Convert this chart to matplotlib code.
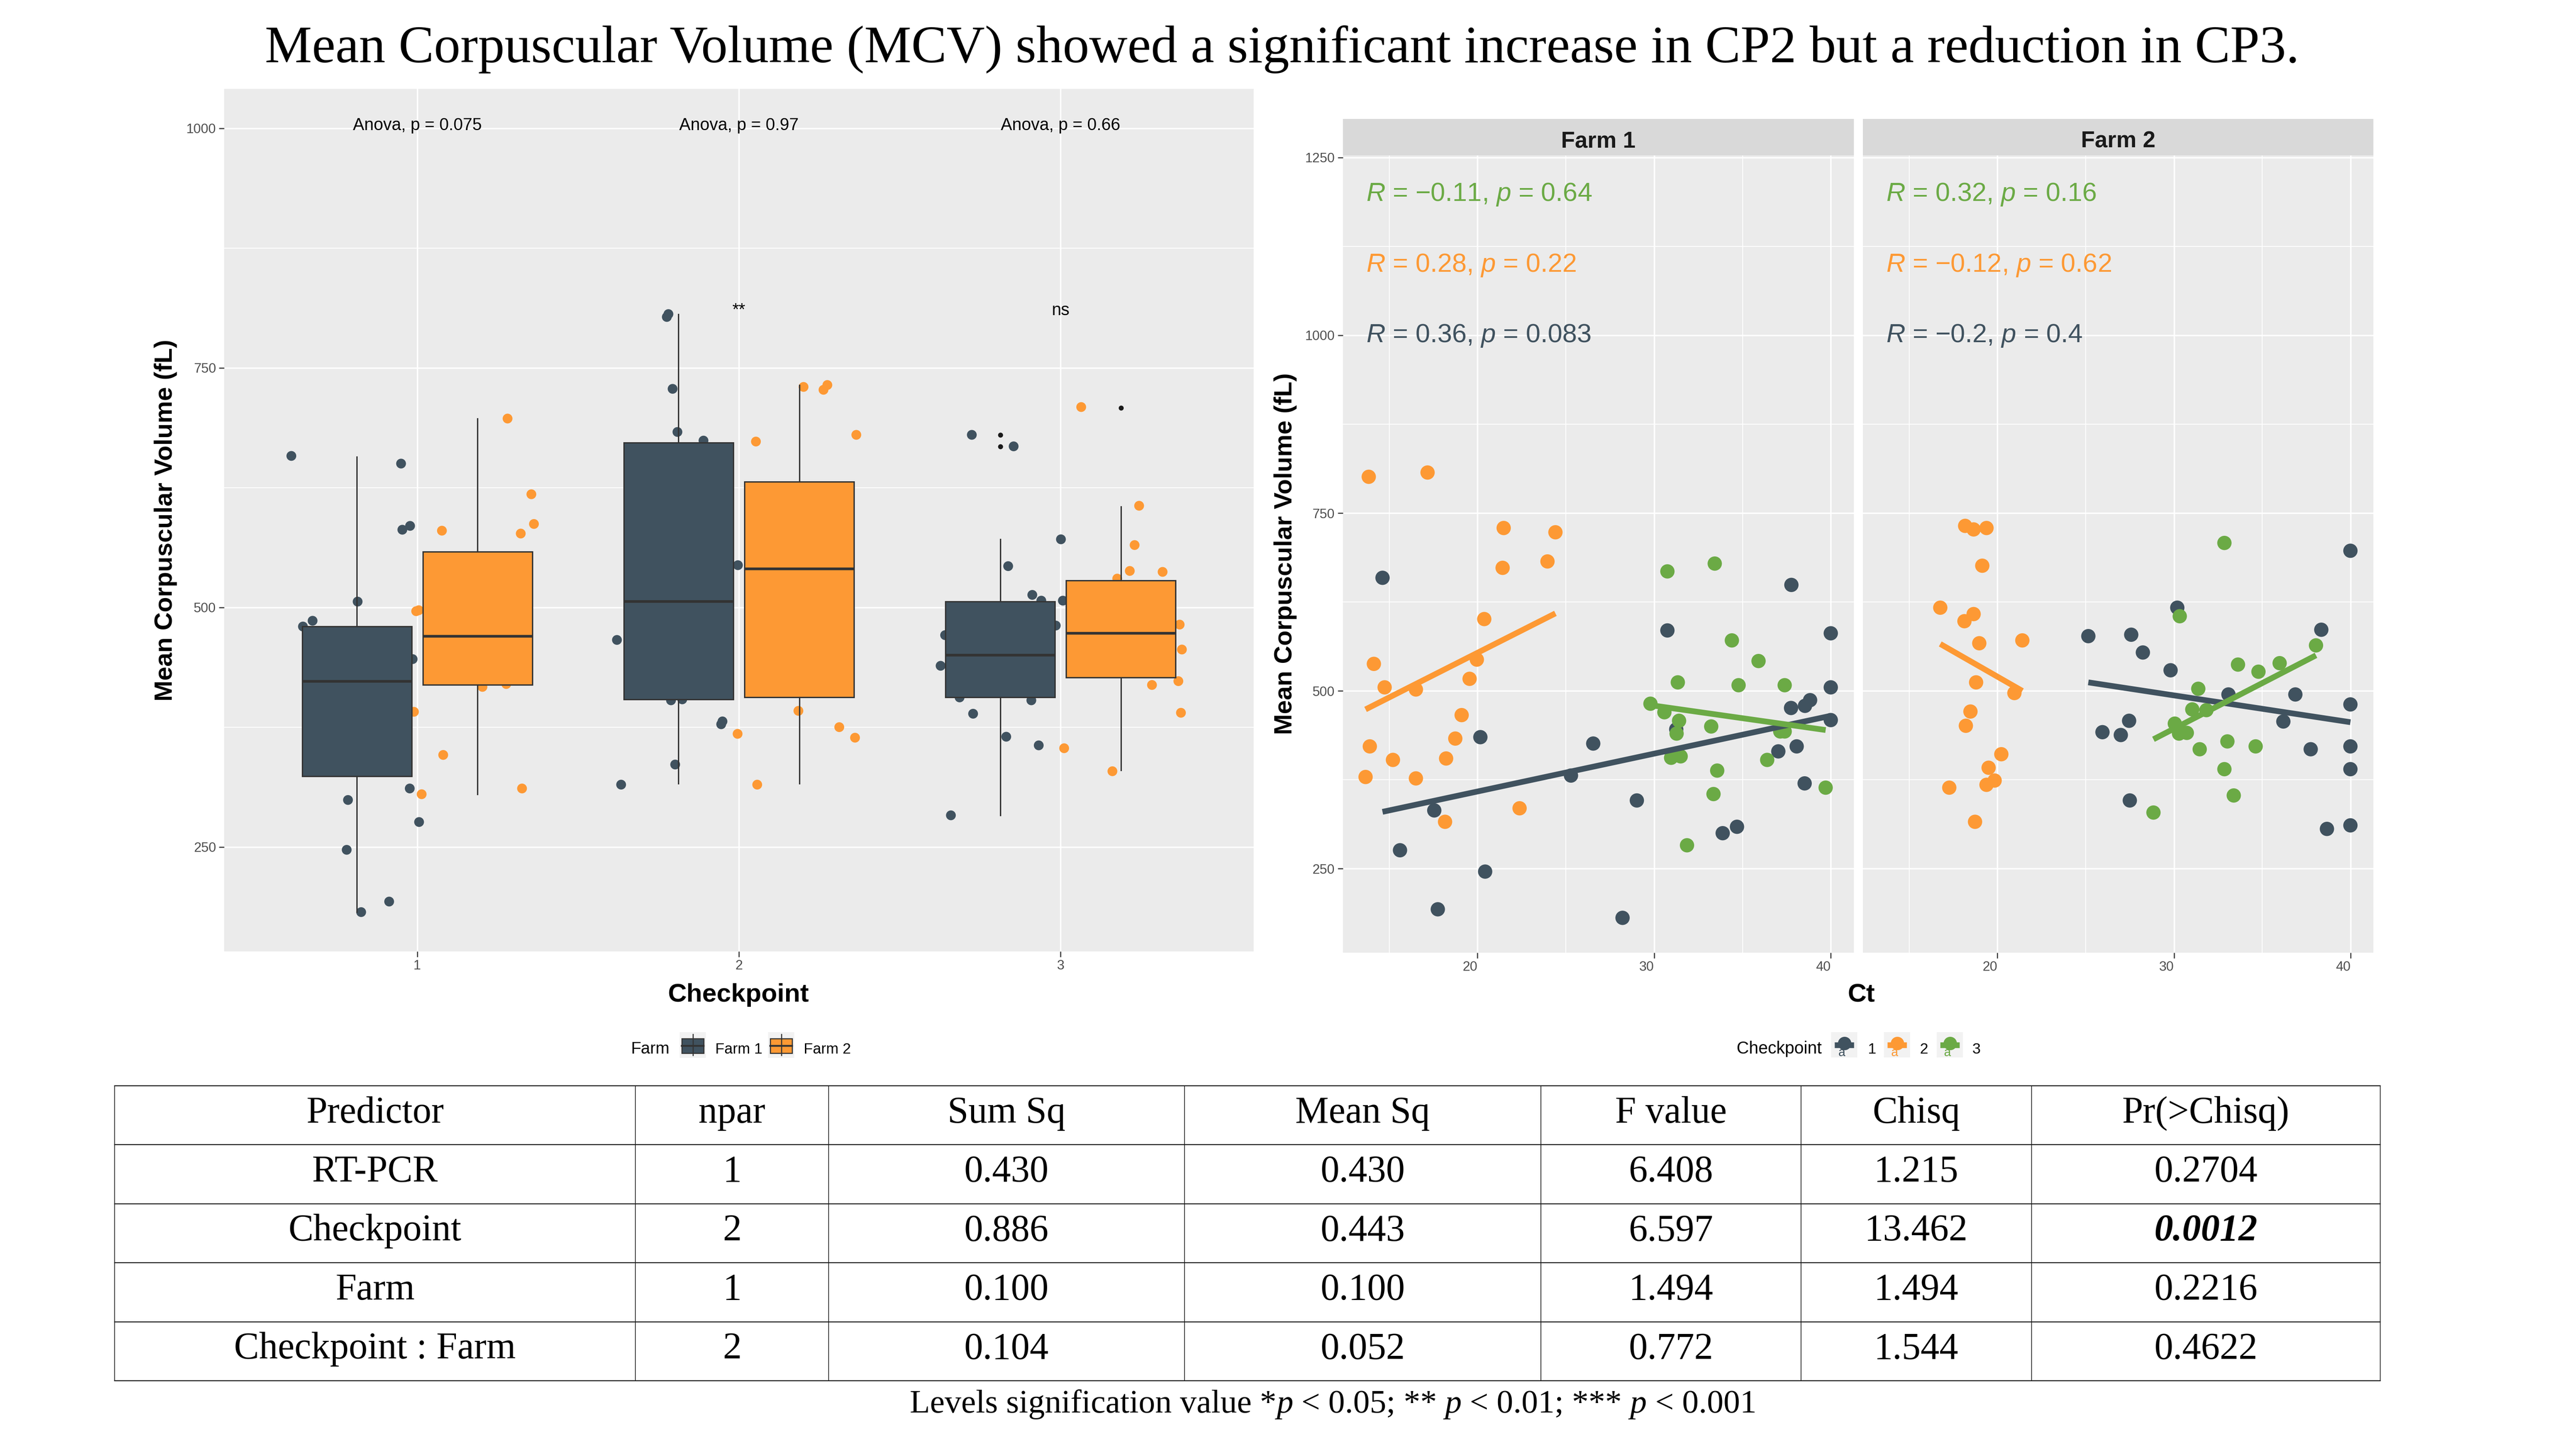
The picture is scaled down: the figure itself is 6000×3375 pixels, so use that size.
import matplotlib
matplotlib.use("Agg")
import matplotlib.pyplot as plt
from matplotlib.lines import Line2D
from matplotlib.patches import Rectangle

plt.rcParams['font.family'] = ['Liberation Sans', 'DejaVu Sans']
plt.rcParams['mathtext.fontset'] = 'custom'
plt.rcParams['mathtext.it'] = 'Liberation Sans:italic'
plt.rcParams['mathtext.rm'] = 'Liberation Sans'

# ---------------- data ----------------
title = "Mean Corpuscular Volume (MCV) showed a significant increase in CP2 but a reduction in CP3."
checkpoints = [1, 2, 3]
farms = ["Farm 1", "Farm 2"]

# boxplot statistics per checkpoint
f1_med = [423, 506, 450]
f1_q1 = [324, 404, 406]
f1_q3 = [480, 672, 506]
f1_lo = [182, 316, 283]
f1_hi = [657, 806, 571]
f1_fliers = [[], [], [680, 668]]
f2_med = [470, 540, 473]
f2_q1 = [419, 406, 427]
f2_q3 = [558, 631, 528]
f2_lo = [305, 316, 330]
f2_hi = [697, 732, 605]
f2_fliers = [[], [], [708]]

# jittered points (x position on checkpoint axis, MCV)
j_f1_x = [0.609, 0.645, 0.675, 0.815, 0.950, 0.954, 0.978, 0.986, 0.785, 0.781, 0.826, 0.913, 0.977, 1.006,
          1.776, 1.781, 1.794, 1.809, 1.890, 1.997, 1.621, 1.634, 1.789, 1.824, 1.945, 1.949, 1.802,
          2.724, 2.854, 3.001, 2.837, 2.912, 2.940, 3.007, 2.985, 2.641, 2.627, 2.686, 2.909, 2.728, 2.831, 2.932, 2.659]
j_f1_y = [658, 480, 486, 506, 650, 581, 585, 446, 299, 247, 182, 193, 311, 276,
          803, 806, 728, 683, 674, 544, 466, 315, 403, 404, 378, 381, 336,
          680, 668, 571, 543, 513, 507, 507, 481, 471, 439, 406, 403, 389, 365, 356, 283]
j_f2_x = [1.281, 1.355, 1.363, 1.322, 1.077, 0.997, 1.005, 0.990, 1.203, 1.277, 1.081, 1.014, 1.326,
          2.201, 2.263, 2.275, 2.365, 2.053, 2.185, 2.312, 2.361, 1.996, 2.057,
          3.064, 3.244, 3.230, 3.215, 3.317, 3.176, 3.370, 3.377, 3.366, 3.284, 3.374, 3.011, 3.161]
j_f2_y = [697, 618, 587, 577, 580, 496, 497, 391, 417, 420, 346, 305, 311,
          730, 727, 732, 680, 673, 392, 375, 364, 368, 315,
          709, 606, 565, 538, 537, 530, 482, 456, 423, 419, 390, 353, 329]

anova_labels = ["Anova, p = 0.075", "Anova, p = 0.97", "Anova, p = 0.66"]
signif_labels = ["", "**", "ns"]

# scatter: Ct vs MCV
f1_cp1_ct = [14.62, 20.16, 17.55, 15.61, 20.43, 17.75, 25.29, 26.55, 29.02, 28.21, 30.75, 31.25, 33.88, 34.69,
             37.77, 40.0, 40.0, 40.0, 37.75, 38.54, 38.83, 37.03, 38.07, 38.52]
f1_cp1_mcv = [659, 435, 332, 276, 246, 193, 381, 426, 346, 181, 585, 446, 300, 309,
              649, 581, 505, 459, 476, 479, 487, 415, 422, 370]
f1_cp2_ct = [13.84, 17.17, 21.48, 24.41, 21.42, 23.96, 20.38, 14.13, 14.74, 16.51, 19.96, 19.55, 19.10, 13.90,
             18.74, 15.21, 18.22, 13.66, 16.51, 18.16, 22.38]
f1_cp2_mcv = [801, 807, 729, 723, 673, 682, 601, 538, 505, 502, 544, 517, 466, 422,
              433, 403, 405, 379, 377, 316, 335]
f1_cp3_ct = [30.75, 33.43, 34.40, 35.91, 31.34, 34.78, 37.39, 29.79, 30.58, 31.41, 31.27, 33.23, 30.96, 31.50,
             33.57, 36.40, 37.14, 37.39, 33.36, 39.71, 31.86]
f1_cp3_mcv = [668, 679, 571, 542, 512, 508, 508, 482, 470, 458, 440, 450, 406, 408,
              388, 403, 443, 443, 355, 364, 283]
f2_cp1_ct = [25.15, 27.58, 28.24, 30.19, 29.81, 38.35, 40.0, 33.09, 36.88, 40.0, 36.20, 27.46, 25.95, 26.99,
             37.75, 40.0, 40.0, 27.50, 38.67, 40.0]
f2_cp1_mcv = [577, 579, 554, 617, 529, 586, 697, 495, 495, 481, 457, 458, 442, 438,
              418, 422, 390, 346, 306, 311]
f2_cp2_ct = [18.17, 18.65, 19.38, 19.14, 16.76, 18.65, 18.13, 18.97, 21.41, 18.79, 20.96, 18.47, 18.21, 20.22,
             19.50, 19.38, 19.84, 17.27, 18.73]
f2_cp2_mcv = [732, 727, 729, 676, 617, 608, 598, 567, 571, 512, 497, 471, 451, 411,
              392, 368, 374, 364, 316]
f2_cp3_ct = [32.86, 30.33, 38.05, 33.63, 34.79, 35.99, 31.38, 31.04, 31.84, 30.05, 30.29, 30.73, 33.03, 34.63,
             31.46, 32.86, 33.39, 28.84]
f2_cp3_mcv = [708, 605, 564, 537, 527, 539, 503, 474, 473, 454, 440, 441, 429, 422,
              418, 390, 353, 329]

# fitted line values at the min and max Ct of each group (cp1, cp2, cp3)
f1_fit_start = [330, 474, 480]
f1_fit_end = [465, 609, 445]
f2_fit_start = [512, 566, 432]
f2_fit_end = [456, 500, 550]

f1_cor = ["$R$ = 0.36, $p$ = 0.083", "$R$ = 0.28, $p$ = 0.22", "$R$ = \u22120.11, $p$ = 0.64"]
f2_cor = ["$R$ = \u22120.2, $p$ = 0.4", "$R$ = \u22120.12, $p$ = 0.62", "$R$ = 0.32, $p$ = 0.16"]
cor_y = [990, 1089, 1189]

tbl_header = ["Predictor", "npar", "Sum Sq", "Mean Sq", "F value", "Chisq", "Pr(>Chisq)"]
predictor = ["RT-PCR", "Checkpoint", "Farm", "Checkpoint : Farm"]
npar = ["1", "2", "1", "2"]
sum_sq = ["0.430", "0.886", "0.100", "0.104"]
mean_sq = ["0.430", "0.443", "0.100", "0.052"]
f_value = ["6.408", "6.597", "1.494", "0.772"]
chisq = ["1.215", "13.462", "1.494", "1.544"]
pr_chisq = ["0.2704", "0.0012", "0.2216", "0.4622"]
signif_row = 1

# ---------------- style ----------------
DARK = '#40525F'
ORANGE = '#FD9934'
GREEN = '#6BAA45'
CP_COL = [DARK, ORANGE, GREEN]
PANEL = '#EBEBEB'
STRIP = '#D9D9D9'
EDGE = '#333333'
SERIF = 'Liberation Serif'

W, H = 6000, 3375
fig = plt.figure(figsize=(20, 11.25), dpi=300)


def fx(x):
    return x / W


def fy(y):
    return 1 - y / H


def frame(x0, y0, x1, y1):
    return [fx(x0), fy(y1), (x1 - x0) / W, (y1 - y0) / H]


def style_axes(ax):
    ax.set_facecolor(PANEL)
    for s in ax.spines.values():
        s.set_visible(False)
    ax.grid(which='major', color='white', lw=0.8)
    ax.grid(which='minor', color='white', lw=0.45)
    ax.set_axisbelow(True)
    ax.tick_params(which='minor', length=0)
    ax.tick_params(which='major', length=3, width=0.6, color=EDGE, labelsize=7.5,
                   labelcolor='#4D4D4D', pad=1.5)


# ---------------- left: boxplot ----------------
axL = fig.add_axes(frame(522, 207, 2920, 2216))
style_axes(axL)
axL.set_xlim(0.4, 3.6)
axL.set_ylim(141, 1041)
axL.set_xticks(checkpoints)
axL.set_xticklabels([str(c) for c in checkpoints])
axL.set_xticks([], minor=True)
axL.set_yticks([250, 500, 750, 1000])
axL.set_yticks([375, 625, 875], minor=True)

axL.scatter(j_f1_x, j_f1_y, s=30, color=DARK, edgecolors='none', zorder=2)
axL.scatter(j_f2_x, j_f2_y, s=30, color=ORANGE, edgecolors='none', zorder=2)

for stats_src, col, off in [((f1_med, f1_q1, f1_q3, f1_lo, f1_hi, f1_fliers), DARK, -0.1875),
                            ((f2_med, f2_q1, f2_q3, f2_lo, f2_hi, f2_fliers), ORANGE, 0.1875)]:
    med, q1, q3, lo, hi, fl = stats_src
    stats = [dict(med=med[i], q1=q1[i], q3=q3[i], whislo=lo[i], whishi=hi[i], fliers=fl[i])
             for i in range(3)]
    axL.bxp(stats, positions=[c + off for c in checkpoints], widths=0.34, patch_artist=True,
            showcaps=False, manage_ticks=False,
            boxprops=dict(facecolor=col, edgecolor=EDGE, linewidth=0.75),
            medianprops=dict(color=EDGE, linewidth=1.5),
            whiskerprops=dict(color=EDGE, linewidth=0.75),
            flierprops=dict(marker='o', markerfacecolor='#1a1a1a', markeredgecolor='none', markersize=2.8),
            zorder=3)

for c, lab in zip(checkpoints, anova_labels):
    axL.text(c, 998, lab, ha='center', va='baseline', fontsize=9.5, color='black', zorder=4)
for c, lab in zip(checkpoints, signif_labels):
    if lab:
        axL.text(c, 805, lab, ha='center', va='baseline', fontsize=9.5, color='black', zorder=4)

fig.text(fx(386), fy(1212), "Mean Corpuscular Volume (fL)", rotation=90, ha='center', va='center',
         fontsize=14, fontweight='bold')
fig.text(fx(1720), fy(2333), "Checkpoint", ha='center', va='baseline', fontsize=14.5, fontweight='bold')

# left legend
fig.text(fx(1470), fy(2454), "Farm", ha='left', va='baseline', fontsize=9.3)
for kx, col, lab, tx in [(1583, DARK, farms[0], 1666), (1789, ORANGE, farms[1], 1872)]:
    fig.add_artist(Rectangle((fx(kx), fy(2464)), 61 / W, 60 / H, transform=fig.transFigure,
                             facecolor='#F2F2F2', edgecolor='none'))
    cx = kx + 30.5
    fig.add_artist(Line2D([fx(cx), fx(cx)], [fy(2409), fy(2458)], transform=fig.transFigure,
                          color=EDGE, lw=0.6))
    fig.add_artist(Rectangle((fx(kx + 5), fy(2453)), 51 / W, 34.5 / H, transform=fig.transFigure,
                             facecolor=col, edgecolor=EDGE, lw=0.6))
    fig.add_artist(Line2D([fx(kx + 5), fx(kx + 56)], [fy(2436), fy(2436)], transform=fig.transFigure,
                          color=EDGE, lw=1.0))
    fig.text(fx(tx), fy(2454), lab, ha='left', va='baseline', fontsize=8.3)

# ---------------- right: scatter facets ----------------
facets = [
    ("Farm 1", frame(3127.6, 361.6, 4317.7, 2219), frame(3127.6, 277, 4317.7, 361.6),
     [(f1_cp1_ct, f1_cp1_mcv), (f1_cp2_ct, f1_cp2_mcv), (f1_cp3_ct, f1_cp3_mcv)],
     f1_fit_start, f1_fit_end, f1_cor, (3127.6 + 4317.7) / 2),
    ("Farm 2", frame(4338.8, 361.6, 5528, 2219), frame(4338.8, 277, 5528, 361.6),
     [(f2_cp1_ct, f2_cp1_mcv), (f2_cp2_ct, f2_cp2_mcv), (f2_cp3_ct, f2_cp3_mcv)],
     f2_fit_start, f2_fit_end, f2_cor, (4338.8 + 5528) / 2),
]
for k, (name, pos, spos, groups, fs, fe, cors, scx) in enumerate(facets):
    ax = fig.add_axes(pos)
    style_axes(ax)
    ax.set_xlim(12.37, 41.3)
    ax.set_ylim(132, 1253)
    ax.set_xticks([20, 30, 40])
    ax.set_xticklabels(["20", "30", "40"], ha='right')
    ax.set_xticks([15, 25, 35], minor=True)
    ax.set_yticks([250, 500, 750, 1000, 1250])
    ax.set_yticks([375, 625, 875, 1125], minor=True)
    if k == 1:
        ax.tick_params(axis='y', which='both', left=False, labelleft=False)
    for g, ((ct, mcv), col) in enumerate(zip(groups, CP_COL)):
        ax.scatter(ct, mcv, s=64, color=col, edgecolors='none', zorder=2)
        ax.plot([min(ct), max(ct)], [fs[g], fe[g]], color=col, lw=3.2, solid_capstyle='butt', zorder=3)
        ax.text(13.69, cor_y[g], cors[g], color=col, fontsize=14.7, ha='left', va='baseline', zorder=4)
    sax = fig.add_axes(spos)
    sax.set_facecolor(STRIP)
    sax.set_xticks([])
    sax.set_yticks([])
    for s in sax.spines.values():
        s.set_visible(False)
    fig.text(fx(scx), fy(344), name, ha='center', va='baseline', fontsize=12.7, fontweight='bold',
             color='#1A1A1A')

fig.text(fx(2994), fy(1290), "Mean Corpuscular Volume (fL)", rotation=90, ha='center', va='center',
         fontsize=14, fontweight='bold')
fig.text(fx(4335), fy(2333), "Ct", ha='center', va='baseline', fontsize=14.5, fontweight='bold')

# right legend
fig.text(fx(4045), fy(2454), "Checkpoint", ha='left', va='baseline', fontsize=9.5)
for kx, col, lab, tx in [(4265, DARK, "1", 4350), (4388, ORANGE, "2", 4471), (4511, GREEN, "3", 4594)]:
    fig.add_artist(Rectangle((fx(kx), fy(2463)), 61 / W, 59 / H, transform=fig.transFigure,
                             facecolor='#F2F2F2', edgecolor='none'))
    cx, cy = kx + 30.5, 2430
    fig.add_artist(Line2D([fx(kx + 8), fx(kx + 53)], [fy(cy + 4), fy(cy + 4)], transform=fig.transFigure,
                          color=col, lw=3.2, solid_capstyle='butt'))
    fig.add_artist(Line2D([fx(cx)], [fy(cy)], transform=fig.transFigure, marker='o', markersize=7.5,
                          color=col, markeredgecolor='none', linestyle='none'))
    fig.text(fx(cx - 6), fy(cy + 30), "a", ha='center', va='baseline', fontsize=7, color=col)
    fig.text(fx(tx), fy(2454), lab, ha='left', va='baseline', fontsize=8.3)

# ---------------- title ----------------
fig.text(fx(2986), fy(145), title, ha='center', va='baseline', fontsize=29.6, family=SERIF)

# ---------------- table ----------------
tbl_left, tbl_right = 267, 5544
col_edges = [267, 1480, 1930, 2759, 3589, 4194.6, 4731.6, 5544]
row_edges = [2529, 2666, 2803.6, 2940.7, 3078.5, 3216.2]
for ry in row_edges:
    fig.add_artist(Line2D([fx(tbl_left), fx(tbl_right)], [fy(ry), fy(ry)], transform=fig.transFigure,
                          color='#1a1a1a', lw=0.55))
for cxe in col_edges:
    fig.add_artist(Line2D([fx(cxe), fx(cxe)], [fy(row_edges[0]), fy(row_edges[-1])],
                          transform=fig.transFigure, color='#1a1a1a', lw=0.4))
col_centers = [(col_edges[i] + col_edges[i + 1]) / 2 for i in range(len(col_edges) - 1)]
rows = [tbl_header] + [list(r) for r in zip(predictor, npar, sum_sq, mean_sq, f_value, chisq, pr_chisq)]
for ri, row in enumerate(rows):
    yb = (row_edges[ri] + row_edges[ri + 1]) / 2 + 17
    for ci, val in enumerate(row):
        kw = dict(family=SERIF, fontsize=21, color='black')
        if ri - 1 == signif_row and ci == len(row) - 1:
            kw.update(fontweight='bold', style='italic')
        fig.text(fx(col_centers[ci]), fy(yb), val, ha='center', va='baseline', **kw)

# ---------------- footer (mixed italic) ----------------
renderer = fig.canvas.get_renderer()
reg = dict(family=SERIF, fontsize=18.5)
ita = dict(family=SERIF, fontsize=18.5, style='italic')
pieces = [("Levels signification value *", reg), ("p", ita), (" < 0.05; ** ", reg), ("p", ita),
          (" < 0.01; *** ", reg), ("p", ita), (" < 0.001", reg)]
widths = []
for txt, kw in pieces:
    t1 = fig.text(0, 0, '|' + txt + '|', **kw)
    t2 = fig.text(0, 0, '||', **kw)
    w = t1.get_window_extent(renderer).width - t2.get_window_extent(renderer).width
    t1.remove()
    t2.remove()
    widths.append(w)
start = 3105 - sum(widths) / 2
for (txt, kw), w in zip(pieces, widths):
    fig.text(fx(start), fy(3290), txt, ha='left', va='baseline', **kw)
    start += w

fig.savefig("out.png", dpi=300, facecolor='white')
